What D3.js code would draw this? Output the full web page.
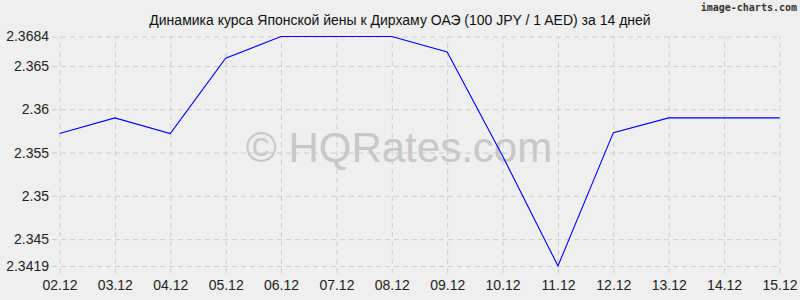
<!DOCTYPE html>
<html>
<head>
<meta charset="utf-8">
<script src="https://cdn.jsdelivr.net/npm/d3@7"></script>
<style>
  body { margin: 0; background: #efefef; }
  svg { display: block; font-family: 'Liberation Sans', Arial, sans-serif; }
</style>
</head>
<body>
<div id="chart-area"></div>
<script>
(() => {

  const dates = ['02.12', '03.12', '04.12', '05.12', '06.12', '07.12', '08.12',
    '09.12', '10.12', '11.12', '12.12', '13.12', '14.12', '15.12'];
  const rates = [2.3572, 2.3590, 2.3572, 2.3659, 2.3684, 2.3684, 2.3684,
    2.3666, 2.3546, 2.3419, 2.3573, 2.3590, 2.3590, 2.3590];
  const yTicks = [2.3419, 2.345, 2.35, 2.355, 2.36, 2.365, 2.3684];

  const widthSvg = 800;
  const heightSvg = 300;
  const plot = { left: 59.5, right: 779.5, top: 36.5, bottom: 266 };

  const svg = d3.select('#chart-area').append('svg')
    .attr('width', widthSvg)
    .attr('height', heightSvg);

  svg.append('rect')
    .attr('width', widthSvg)
    .attr('height', heightSvg)
    .attr('fill', '#efefef');

  const scaleX = d3.scalePoint()
    .domain(dates)
    .range([plot.left, plot.right]);

  const scaleY = d3.scaleLinear()
    .domain([d3.min(yTicks), d3.max(yTicks)])
    .range([plot.bottom, plot.top]);

  // grid via axes
  const axisGroupY = svg.append('g')
    .attr('transform', `translate(52, 0)`)
    .call(d3.axisLeft(scaleY)
      .tickValues(yTicks)
      .tickFormat(d => String(d))
      .tickSize(-(plot.right - 52))
      .tickPadding(3));

  const axisGroupX = svg.append('g')
    .attr('transform', `translate(0, 273)`)
    .call(d3.axisBottom(scaleX)
      .tickSize(-(273 - plot.top))
      .tickPadding(7));

  [axisGroupX, axisGroupY].forEach(g => {
    g.select('.domain').remove();
    g.selectAll('.tick line')
      .attr('stroke', '#cccccc')
      .attr('stroke-dasharray', '5,4');
    g.selectAll('.tick text')
      .attr('fill', '#222222')
      .attr('font-size', '14px')
      .attr('font-family', "'Liberation Sans', Arial, sans-serif");
  });

  svg.append('text')
    .text('Динамика курса Японской йены к Дирхаму ОАЭ (100 JPY / 1 AED) за 14 дней')
      .attr('x', 400)
      .attr('y', 25)
      .attr('text-anchor', 'middle')
      .attr('font-size', '14px')
      .attr('fill', '#111111');

  svg.append('text')
    .text('image-charts.com')
      .attr('x', 797)
      .attr('y', 11)
      .attr('text-anchor', 'end')
      .attr('font-family', "'DejaVu Sans Mono', monospace")
      .attr('font-weight', 'bold')
      .attr('font-size', '10px')
      .attr('fill', '#333333');

  // watermark
  svg.append('text')
    .text('© HQRates.com')
      .attr('x', 399)
      .attr('y', 162)
      .attr('text-anchor', 'middle')
      .attr('font-size', '42px')
      .attr('fill', '#c8c8c8');

  const line = d3.line()
    .x((d, i) => scaleX(dates[i]))
    .y(d => scaleY(d));

  svg.append('path')
    .datum(rates)
    .attr('d', line)
    .attr('fill', 'none')
    .attr('stroke', '#0000ff')
    .attr('stroke-width', 1.1);

})();
</script>
</body>
</html>
